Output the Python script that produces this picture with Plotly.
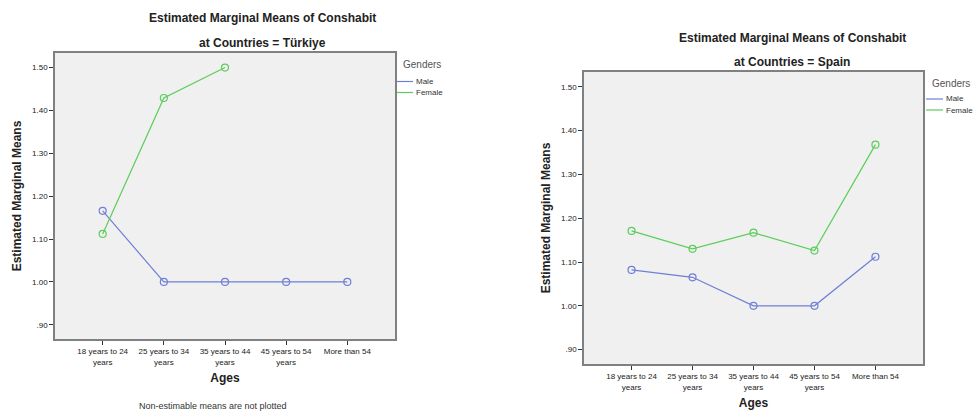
import plotly.graph_objects as go

# Estimated marginal means of Conshabit by age group and gender
ages = ["18 years to 24 years", "25 years to 34 years", "35 years to 44 years",
        "45 years to 54 years", "More than 54"]
age_tick_text = ["18 years to 24<br>years", "25 years to 34<br>years", "35 years to 44<br>years",
                 "45 years to 54<br>years", "More than 54"]

turkiye_male = [1.166, 1.00, 1.00, 1.00, 1.00]
turkiye_female = [1.112, 1.429, 1.50, None, None]  # non-estimable cells left empty

spain_male = [1.082, 1.065, 1.00, 1.00, 1.112]
spain_female = [1.171, 1.130, 1.167, 1.126, 1.368]

y_tick_vals = [0.90, 1.00, 1.10, 1.20, 1.30, 1.40, 1.50]
y_tick_text = [".90", "1.00", "1.10", "1.20", "1.30", "1.40", "1.50"]

MALE_COLOR = "#6f7fd6"
FEMALE_COLOR = "#5ccd5c"
FONT = "Liberation Sans, Arial, sans-serif"
W, H = 973, 414

x_pos = list(range(len(ages)))

fig = go.Figure()


def add_series(values, color, name, xa, ya):
    fig.add_trace(go.Scatter(
        x=x_pos, y=values, name=name, mode="lines+markers",
        line=dict(color=color, width=1.2),
        marker=dict(symbol="circle-open", size=7, color=color, line=dict(width=1.2)),
        xaxis=xa, yaxis=ya, showlegend=False, connectgaps=False,
        customdata=ages, hovertemplate="%{customdata}<br>%{y:.3f}<extra>" + name + "</extra>",
    ))


add_series(turkiye_male, MALE_COLOR, "Male", "x", "y")
add_series(turkiye_female, FEMALE_COLOR, "Female", "x", "y")
add_series(spain_male, MALE_COLOR, "Male", "x2", "y2")
add_series(spain_female, FEMALE_COLOR, "Female", "x2", "y2")


def px_x(px):
    return px / W


def px_y(py):
    return 1 - py / H


common_x = dict(
    tickvals=x_pos, ticktext=age_tick_text, range=[-0.78, 4.78],
    showgrid=False, zeroline=False, ticks="outside", ticklen=4, tickcolor="#333",
    showline=True, linecolor="#808080", linewidth=1.5, mirror=True,
    tickfont=dict(family=FONT, size=8, color="#222"),
    title=dict(text="<b>Ages</b>", font=dict(family=FONT, size=12, color="#222"), standoff=8),
)
common_y = dict(
    tickvals=y_tick_vals, ticktext=y_tick_text, range=[0.867, 1.534],
    showgrid=False, zeroline=False, ticks="outside", ticklen=4, tickcolor="#333",
    showline=True, linecolor="#808080", linewidth=1.5, mirror=True,
    tickfont=dict(family=FONT, size=8, color="#222"),
    title=dict(text="<b>Estimated Marginal Means</b>", font=dict(family=FONT, size=12, color="#222"),
               standoff=8),
)

fig.update_layout(
    width=W, height=H,
    margin=dict(l=0, r=0, t=0, b=0),
    paper_bgcolor="white",
    plot_bgcolor="#f0f0f0",
    font=dict(family=FONT, color="#222"),
    xaxis=dict(domain=[px_x(55), px_x(395)], anchor="y", **common_x),
    yaxis=dict(domain=[px_y(339), px_y(53)], anchor="x", **common_y),
    xaxis2=dict(domain=[px_x(584), px_x(923)], anchor="y2", **common_x),
    yaxis2=dict(domain=[px_y(364), px_y(72)], anchor="x2", **common_y),
    showlegend=False,
)

annotations = []
shapes = []

# Panel titles
for cx, y1, y2, country in [(262, 18, 43, "Türkiye"), (792, 38, 62, "Spain")]:
    annotations.append(dict(text="<b>Estimated Marginal Means of Conshabit</b>", x=px_x(cx), y=px_y(y1),
                            xref="paper", yref="paper", showarrow=False, xanchor="center", yanchor="middle",
                            font=dict(family=FONT, size=12, color="#222")))
    annotations.append(dict(text="<b>at Countries = " + country + "</b>", x=px_x(cx), y=px_y(y2),
                            xref="paper", yref="paper", showarrow=False, xanchor="center", yanchor="middle",
                            font=dict(family=FONT, size=12, color="#222")))

# Gender keys beside each panel
for gx, gy, lx0, lx1, my, fy in [(401, 64, 397, 413, 81.5, 92.5), (930, 83, 926, 943, 99, 110)]:
    annotations.append(dict(text="Genders", x=px_x(gx), y=px_y(gy), xref="paper", yref="paper",
                            showarrow=False, xanchor="left", yanchor="middle",
                            font=dict(family=FONT, size=10, color="#555")))
    for yy, label, color in [(my, "Male", MALE_COLOR), (fy, "Female", FEMALE_COLOR)]:
        shapes.append(dict(type="line", xref="paper", yref="paper", x0=px_x(lx0), x1=px_x(lx1),
                           y0=px_y(yy), y1=px_y(yy), line=dict(color=color, width=1.2)))
        annotations.append(dict(text=label, x=px_x(lx1 + 1), y=px_y(yy), xref="paper", yref="paper",
                                showarrow=False, xanchor="left", yanchor="middle",
                                font=dict(family=FONT, size=8, color="#333")))

annotations.append(dict(text="Non-estimable means are not plotted", x=px_x(213), y=px_y(406),
                        xref="paper", yref="paper", showarrow=False, xanchor="center", yanchor="middle",
                        font=dict(family=FONT, size=9, color="#333")))

fig.update_layout(annotations=annotations, shapes=shapes)

fig.write_html("out.html")
